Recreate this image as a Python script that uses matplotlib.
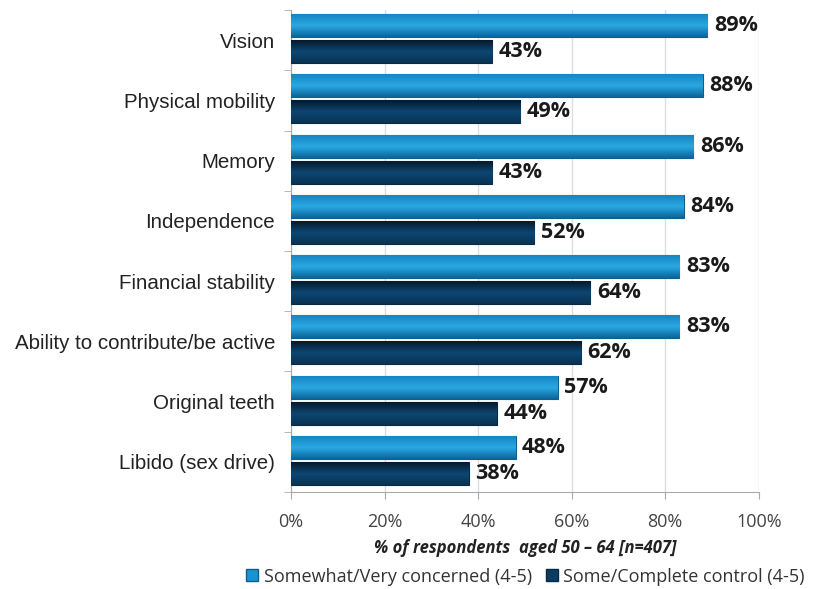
import matplotlib.pyplot as plt
import numpy as np
from matplotlib.patches import Patch
from matplotlib.colors import LinearSegmentedColormap

categories = ["Vision", "Physical mobility", "Memory", "Independence",
              "Financial stability", "Ability to contribute/be active",
              "Original teeth", "Libido (sex drive)"]
concerned = [89, 88, 86, 84, 83, 83, 57, 48]
control = [43, 49, 43, 52, 64, 62, 44, 38]
series_names = ["Somewhat/Very concerned (4-5)", "Some/Complete control (4-5)"]

light = "#1b93d0"
dark = "#0b3d60"

fig = plt.figure(figsize=(8.15, 5.89), dpi=100)
ax = fig.add_axes([0.357, 0.1647, 0.574, 0.8183])

n = len(categories)
y = np.arange(n)
h = 0.38
gap = 0.05
shift = -0.025

bars1 = ax.barh(y + shift - (h + gap) / 2, concerned, height=h, color=light,
                edgecolor="#0d5f8f", linewidth=0.8, zorder=3)
bars2 = ax.barh(y + shift + (h + gap) / 2, control, height=h, color=dark,
                edgecolor="#072a45", linewidth=0.8, zorder=3)


def shade(bars, top, mid, bottom):
    # vertical gradient clipped to each bar
    grad = np.linspace(0, 1, 64).reshape(-1, 1)
    cmap = LinearSegmentedColormap.from_list("g", [top, mid, bottom])
    for b in bars:
        x0, y0 = b.get_x(), b.get_y()
        w, hh = b.get_width(), b.get_height()
        im = ax.imshow(grad, cmap=cmap, aspect="auto",
                       extent=[x0, x0 + w, y0 + hh, y0], zorder=3.5)
        im.set_clip_path(b)


shade(bars1, "#1585c2", "#2aa8e2", "#0c659b")
shade(bars2, "#05192b", "#0d4672", "#093353")

for bars, vals in [(bars1, concerned), (bars2, control)]:
    for b, v in zip(bars, vals):
        ax.text(v + 1.4, b.get_y() + b.get_height() / 2, f"{v}%",
                va="center", ha="left", fontsize=15.5, fontweight="bold",
                color="#1a1a1a", family="Open Sans", zorder=5)

ax.set_xlim(0, 100)
ax.set_ylim(n - 0.5, -0.5)
ax.set_xticks(np.arange(0, 101, 20))
ax.set_xticklabels([f"{t}%" for t in range(0, 101, 20)], color="#444444",
                   fontsize=13, family="Open Sans")
ax.set_yticks(y)
ax.set_yticklabels(categories, fontsize=14.8, family="Liberation Sans",
                   color="#222222")
ax.set_yticks(np.arange(-0.5, n, 1), minor=True)
ax.tick_params(axis="y", which="major", length=0, pad=11.5)
ax.tick_params(axis="y", which="minor", length=5, color="#aaaaaa")
ax.tick_params(axis="x", length=5, color="#aaaaaa", pad=10)
ax.grid(axis="x", color="#dddddd", linewidth=1, zorder=0)
for s in ["top", "right"]:
    ax.spines[s].set_visible(False)
for s in ["left", "bottom"]:
    ax.spines[s].set_color("#aaaaaa")

ax.set_xlabel("% of respondents  aged 50 \u2013 64 [n=407]", fontsize=12,
              style="italic", fontweight="bold", color="#222222",
              family="Open Sans", labelpad=6)

handles = [Patch(facecolor=light, edgecolor="#0d5f8f"),
           Patch(facecolor=dark, edgecolor="#072a45")]
fig.legend(handles, series_names, loc="lower center", ncol=2,
           bbox_to_anchor=(0.645, -0.022), frameon=False,
           handlelength=0.65, handleheight=0.65, handletextpad=0.3,
           columnspacing=0.8, labelcolor="#333333",
           prop={"family": "Open Sans", "size": 13})

fig.savefig("out.png", dpi=100)
